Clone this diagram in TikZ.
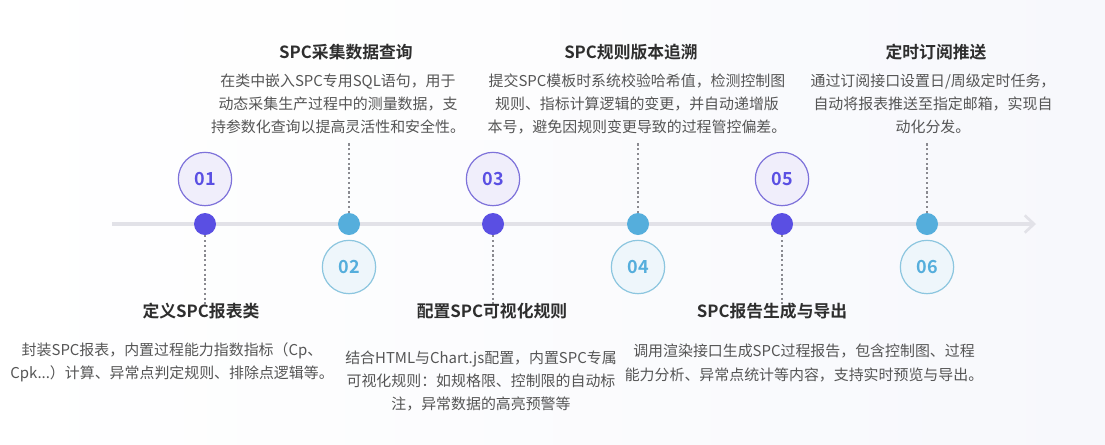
\documentclass[tikz,border=0pt]{standalone}
\usepackage{fontspec}
\setmainfont{Noto Sans CJK SC}[BoldFont={Noto Sans CJK SC Bold}]
\usetikzlibrary{arrows.meta}
\definecolor{purp}{HTML}{5A4FE3}
\definecolor{purpring}{HTML}{7E72DA}
\definecolor{purpfill}{HTML}{F0EEFB}
\definecolor{bluec}{HTML}{55AEDC}
\definecolor{bluering}{HTML}{8CC6DF}
\definecolor{bluefill}{HTML}{EEF6FB}
\definecolor{axisc}{HTML}{E2E2E8}
\definecolor{titlec}{HTML}{2E2E2E}
\definecolor{descc}{HTML}{555555}
\definecolor{dotc}{HTML}{8A8A90}
\definecolor{bgc}{HTML}{F7F8FC}
\tikzset{
  pdot/.style={circle,fill=purp,minimum size=16.5pt,inner sep=0},
  bdot/.style={circle,fill=bluec,minimum size=16.5pt,inner sep=0},
  pnum/.style={circle,draw=purpring,line width=0.9pt,fill=purpfill,minimum size=40pt,inner sep=0,text=purp,font=\fontsize{13.5}{13.5}\selectfont\bfseries},
  bnum/.style={circle,draw=bluering,line width=0.9pt,fill=bluefill,minimum size=40pt,inner sep=0,text=bluec,font=\fontsize{13.5}{13.5}\selectfont\bfseries},
  ttl/.style={inner sep=0,text=titlec,font=\fontsize{12.6}{15}\selectfont\bfseries},
  desc/.style={inner sep=0,align=center,text=descc,font=\fontsize{11.2}{17.3}\selectfont},
  vline/.style={draw=dotc,line width=1.6pt,dotted},
}
\begin{document}
\begin{tikzpicture}[x=0.75pt,y=-0.75pt]
\useasboundingbox (0,0) rectangle (1105,444);
\shade[left color=white,right color=bgc,draw=none] (0,0) rectangle (1105,444);
\fill[white,opacity=0.6] (0,0) rectangle (560,140);

% axis
\coordinate (ax0) at (112,224);
\coordinate (ax1) at (1036,224);
\draw[axisc,line width=3pt,-{Straight Barb[length=7pt,width=13pt,line width=2pt]}] (ax0) -- (ax1);

% dots
\node[pdot] (p1) at (205,224) {};
\node[bdot] (p2) at (349,224) {};
\node[pdot] (p3) at (493,224) {};
\node[bdot] (p4) at (638,224) {};
\node[pdot] (p5) at (782,224) {};
\node[bdot] (p6) at (927,224) {};

% number circles
\node[pnum] (n1) at (205,179) {01};
\node[bnum] (n2) at (349,267) {02};
\node[pnum] (n3) at (493,179) {03};
\node[bnum] (n4) at (638,267) {04};
\node[pnum] (n5) at (782,179) {05};
\node[bnum] (n6) at (927,267) {06};

% dotted leaders
\coordinate (e1) at (205,304);
\coordinate (e2) at (349,142);
\coordinate (e3) at (493,304);
\coordinate (e4) at (638,142);
\coordinate (e5) at (782,304);
\coordinate (e6) at (927,142);
\draw[vline] (p1.south) -- (e1);
\draw[vline] (p2.north) -- (e2);
\draw[vline] (p3.south) -- (e3);
\draw[vline] (p4.north) -- (e4);
\draw[vline] (p5.south) -- (e5);
\draw[vline] (p6.north) -- (e6);

% titles
\node[ttl] (t1) at (201,311) {定义SPC报表类};
\node[ttl] (t2) at (346,52) {SPC采集数据查询};
\node[ttl] (t3) at (492,311) {配置SPC可视化规则};
\node[ttl] (t4) at (631,52) {SPC规则版本追溯};
\node[ttl] (t5) at (772,311) {SPC报告生成与导出};
\node[ttl] (t6) at (936,52) {定时订阅推送};

% descriptions
\node[desc] (d1) at (172,362) {封装SPC报表，内置过程能力指数指标（Cp、\\Cpk...）计算、异常点判定规则、排除点逻辑等。};
\node[desc] (d2) at (338,104) {在类中嵌入SPC专用SQL语句，用于\\动态采集生产过程中的测量数据，支\\持参数化查询以提高灵活性和安全性。};
\node[desc] (d3) at (481,381) {结合HTML与Chart.js配置，内置SPC专属\\可视化规则：如规格限、控制限的自动标\\注，异常数据的高亮预警等};
\node[desc] (d4) at (637,104) {提交SPC模板时系统校验哈希值，检测控制图\\规则、指标计算逻辑的变更，并自动递增版\\本号，避免因规则变更导致的过程管控偏差。};
\node[desc] (d5) at (804,363) {调用渲染接口生成SPC过程报告，包含控制图、过程\\能力分析、异常点统计等内容，支持实时预览与导出。};
\node[desc] (d6) at (933,104) {通过订阅接口设置日/周级定时任务，\\自动将报表推送至指定邮箱，实现自\\动化分发。};
\end{tikzpicture}
\end{document}
